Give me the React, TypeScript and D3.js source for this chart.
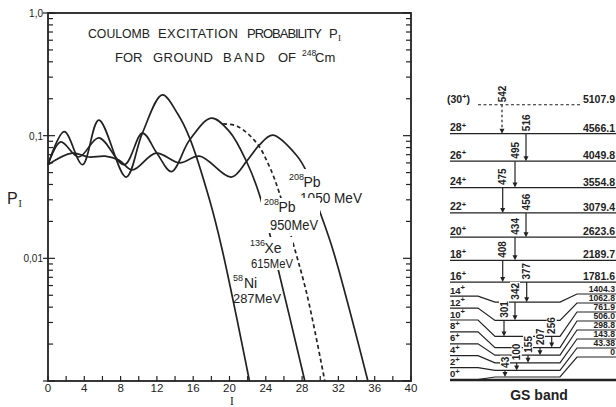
import React from "react";
import * as d3 from "d3";

// ---------- plot data (spin I, probability P_I) ----------
const xTickValues = [0, 4, 8, 12, 16, 20, 24, 28, 32, 36, 40];
const yTickValues = [1, 0.1, 0.01];
const yTickTexts = ["1,0", "0,1", "0,01"];

const niSpin = [0, 1.8, 3.8, 5.6, 8.6, 10.4, 12.6, 14.3, 15.6, 17.8, 19.2, 22.2];
const niProb = [0.058, 0.108, 0.058, 0.134, 0.046, 0.105, 0.215, 0.15, 0.096, 0.03, 0.0117, 0.001];

const xeSpin = [0, 1.4, 3.4, 5.6, 8.4, 10.4, 12.0, 13.6, 15.6, 18.0, 20.0, 21.9, 23.3, 25.3, 28.3];
const xeProb = [0.058, 0.089, 0.067, 0.096, 0.058, 0.105, 0.072, 0.051, 0.092, 0.139, 0.108, 0.061, 0.033, 0.0085, 0.001];

const pb950Spin = [19.3, 20.9, 23.0, 24.4, 25.5, 26.6, 28.5, 30.5];
const pb950Prob = [0.125, 0.119, 0.087, 0.056, 0.034, 0.017, 0.0052, 0.001];

const pb1050Spin = [0, 2.65, 4.5, 6.3, 7.85, 9.3, 11.9, 14.5, 16.7, 20.2, 21.9, 23.3, 24.75, 27.4, 28.5, 29.7, 31.4, 35.25];
const pb1050Prob = [0.058, 0.072, 0.067, 0.068, 0.063, 0.0525, 0.072, 0.06, 0.068, 0.046, 0.062, 0.084, 0.101, 0.069, 0.0506, 0.0272, 0.0117, 0.001];

// ---------- level scheme data (GS band of 248Cm) ----------
const levelSpins = ["0", "2", "4", "6", "8", "10", "12", "14", "16", "18", "20", "22", "24", "26", "28", "30"];
const levelEnergy = [0, 43.38, 143.8, 298.8, 506.0, 761.9, 1062.8, 1404.3, 1781.6, 2189.7, 2623.6, 3079.4, 3554.8, 4049.8, 4566.1, 5107.9];
const levelEnergyText = ["0", "43.38", "143.8", "298.8", "506.0", "761.9", "1062.8", "1404.3", "1781.6", "2189.7", "2623.6", "3079.4", "3554.8", "4049.8", "4566.1", "5107.9"];
const gammaText = ["43", "100", "155", "207", "256", "301", "342", "377", "408", "434", "456", "475", "495", "516", "542"];

// layout constants for the level scheme
const gammaX = [505, 516.7, 528, 540, 551.7, 504, 515, 526.7, 502.7, 515, 526, 502.7, 515, 526, 502];
const rightLabelY = [357, 348, 339, 330, 321, 312, 303, 294];

const INK = "#222";
const SANS = "'Liberation Sans', Arial, sans-serif";
const SERIF = "'Liberation Serif', 'DejaVu Serif', serif";

const zip = (a: number[], b: number[]) => a.map((v, i) => [v, b[i]] as [number, number]);

export default function App() {
  const x = d3.scaleLinear().domain([0, 40]).range([48, 411]);
  const y = d3.scaleLog().domain([0.001, 1]).range([381, 13]);
  const line = d3
    .line<[number, number]>()
    .x((d) => x(d[0]))
    .y((d) => y(d[1]))
    .curve(d3.curveCatmullRom.alpha(0.5));

  const yTicksAll: number[] = [];
  [0.001, 0.01, 0.1].forEach((dec) => {
    for (let m = 1; m <= 9; m++) yTicksAll.push(m * dec);
  });
  yTicksAll.push(1);
  const isMajor = (v: number) => Math.abs(Math.log10(v) - Math.round(Math.log10(v))) < 1e-6;
  const xMinor = d3.range(0, 41, 2);

  // level scheme geometry
  const eScale = d3.scaleLinear().domain([0, 5107.9]).range([377, 104.8]);
  const geom = (i: number) => {
    const yE = eScale(levelEnergy[i]);
    if (i <= 7) return { yL: 379.5 - i * 11.9, yM: Math.min(yE, 378 - i * 7.6), yR: rightLabelY[i] };
    return { yL: yE, yM: yE, yR: yE };
  };

  return (
    <svg width={616} height={407} style={{ position: "absolute", left: 0, top: 0, background: "#fff" }}>
      {/* ---------- left plot ---------- */}
      <g>
        <rect x={48} y={13} width={363} height={368} fill="none" stroke={INK} strokeWidth={1.8} />
        {yTicksAll.map((v, i) => {
          const yy = y(v);
          const maj = isMajor(v);
          return (
            <g key={"yt" + i} stroke={INK} strokeWidth={1.2}>
              <line x1={maj ? 43 : 48} x2={maj ? 55 : 53} y1={yy} y2={yy} />
              <line x1={maj ? 403 : 406} x2={411} y1={yy} y2={yy} />
            </g>
          );
        })}
        {xMinor.map((v) => (
          <line key={"xt" + v} x1={x(v)} x2={x(v)} y1={381} y2={376} stroke={INK} strokeWidth={1.2} />
        ))}
        {xTickValues.map((v) => (
          <text key={"xl" + v} x={x(v)} y={392} textAnchor="middle" fontFamily={SANS} fontSize={11.5} fill={INK}>
            {v}
          </text>
        ))}
        {yTickValues.map((v, i) => (
          <text key={"yl" + i} x={43} y={y(v) + 4} textAnchor="end" fontFamily={SANS} fontSize={10} fill={INK}>
            {yTickTexts[i]}
          </text>
        ))}

        {/* curves */}
        <g fill="none" stroke={INK} strokeWidth={1.7}>
          <path d={line(zip(niSpin, niProb)) || ""} />
          <path d={line(zip(xeSpin, xeProb)) || ""} />
          <path d={line(zip(pb1050Spin, pb1050Prob)) || ""} />
          <path d={line(zip(pb950Spin, pb950Prob)) || ""} strokeDasharray="4 3" />
        </g>

        {/* curve labels */}
        <g fontFamily={SANS} fill={INK}>
          <rect x={287} y={169} width={78} height={37} fill="#fff" />
          <text x={289} y={180} fontSize={9}>208</text>
          <text x={303.5} y={187} fontSize={14}>Pb</text>
          <text x={300} y={202.5} fontSize={14} textLength={62} lengthAdjust="spacingAndGlyphs">1050 MeV</text>

          <rect x={261} y={198} width={59} height={35} fill="#fff" />
          <text x={264} y={205} fontSize={9}>208</text>
          <text x={278.5} y={212} fontSize={14}>Pb</text>
          <text x={270} y={230} fontSize={14} textLength={48} lengthAdjust="spacingAndGlyphs">950MeV</text>

          <rect x={248} y={237} width={45} height={33} fill="#fff" />
          <text x={250} y={246} fontSize={9}>136</text>
          <text x={264.5} y={253} fontSize={14}>Xe</text>
          <text x={251} y={268} fontSize={13.5} textLength={42} lengthAdjust="spacingAndGlyphs">615MeV</text>

          <text x={233} y={281} fontSize={9}>58</text>
          <text x={244} y={288} fontSize={14}>Ni</text>
          <text x={233} y={303} fontSize={13.5} textLength={48} lengthAdjust="spacingAndGlyphs">287MeV</text>
        </g>

        {/* title */}
        <g fontFamily={SANS} fontSize={13} fill={INK}>
          <text x={88} y={38} textLength={62} lengthAdjust="spacingAndGlyphs">COULOMB</text>
          <text x={158} y={38} textLength={80} lengthAdjust="spacing">EXCITATION</text>
          <text x={247} y={38} textLength={75} lengthAdjust="spacing">PROBABILITY</text>
          <text x={329} y={38}>P</text>
          <text x={338} y={41} fontFamily={SERIF} fontSize={9}>I</text>
          <text x={115} y={62}>FOR</text>
          <text x={153} y={62} textLength={60} lengthAdjust="spacing">GROUND</text>
          <text x={223} y={62} textLength={42} lengthAdjust="spacing">BAND</text>
          <text x={278} y={62}>OF</text>
          <text x={302} y={56} fontSize={8.5}>248</text>
          <text x={315} y={62}>Cm</text>
        </g>

        {/* axis labels */}
        <text x={7} y={204} fontFamily={SANS} fontSize={16} fill={INK}>P</text>
        <text x={18.5} y={207} fontFamily={SERIF} fontSize={10} fill={INK}>I</text>
        <text x={232} y={405} textAnchor="middle" fontFamily={SERIF} fontSize={11.5} fill={INK}>I</text>
      </g>

      {/* ---------- level scheme ---------- */}
      <g fontFamily={SANS} fontWeight="bold" fill={INK}>
        {levelSpins.map((s, i) => {
          const g = geom(i);
          if (i === 15) {
            return (
              <line key={"lv" + i} x1={478} x2={581} y1={g.yM} y2={g.yM} stroke={INK} strokeWidth={1.1} strokeDasharray="3 2.5" />
            );
          }
          const d =
            i <= 7
              ? `M450,${g.yL}H478L495,${g.yM}H560L577,${g.yR}H616`
              : `M450,${g.yM}H616`;
          return <path key={"lv" + i} d={d} fill="none" stroke={INK} strokeWidth={1.2} />;
        })}
        <line x1={450} x2={616} y1={380} y2={380} stroke={INK} strokeWidth={2.5} />

        {/* transition label backgrounds */}
        {gammaText.map((t, k) => {
          const y1 = geom(k + 1).yM;
          const len = t.length * 5.6;
          return <rect key={"gb" + k} x={gammaX[k] - 5} y={y1 - 3.5 - len} width={10} height={len + 2} fill="#fff" />;
        })}

        {/* level labels */}
        {levelSpins.map((s, i) => {
          const g = geom(i);
          const fs = i <= 7 ? 9.5 : 10.5;
          if (i === 15) {
            return (
              <text key={"ll" + i} x={447} y={g.yL - 2} fontSize={fs}>
                ({s}
                <tspan fontSize={7.5} dy={-3.5}>+</tspan>
                <tspan dy={3.5}>)</tspan>
              </text>
            );
          }
          return (
            <text key={"ll" + i} x={450} y={g.yL - 2.5} fontSize={fs}>
              {s}
              <tspan fontSize={7.5} dy={-3.5}>+</tspan>
            </text>
          );
        })}
        {levelEnergyText.map((t, i) => {
          const g = geom(i);
          return (
            <text key={"le" + i} x={615} y={g.yR - 2} fontSize={i <= 7 ? 8.6 : 10.5} textAnchor="end">
              {t}
            </text>
          );
        })}

        {/* transitions */}
        {gammaText.map((t, k) => {
          const gx = gammaX[k];
          const y1 = geom(k + 1).yM;
          const y2 = geom(k).yM;
          return (
            <g key={"gt" + k}>
              <line x1={gx} x2={gx} y1={y1} y2={y2 - 4} stroke={INK} strokeWidth={1.2} strokeDasharray={k === 14 ? "2.5 2.5" : undefined} />
              <path d={`M${gx - 2.5},${y2 - 5}L${gx + 2.5},${y2 - 5}L${gx},${y2}Z`} fill={INK} />
              <text transform={`translate(${gx + 3.5},${y1 - 2.5}) rotate(-90)`} fontSize={10}>
                {t}
              </text>
            </g>
          );
        })}

        <text x={539} y={400} textAnchor="middle" fontSize={14}>GS band</text>
      </g>
    </svg>
  );
}
